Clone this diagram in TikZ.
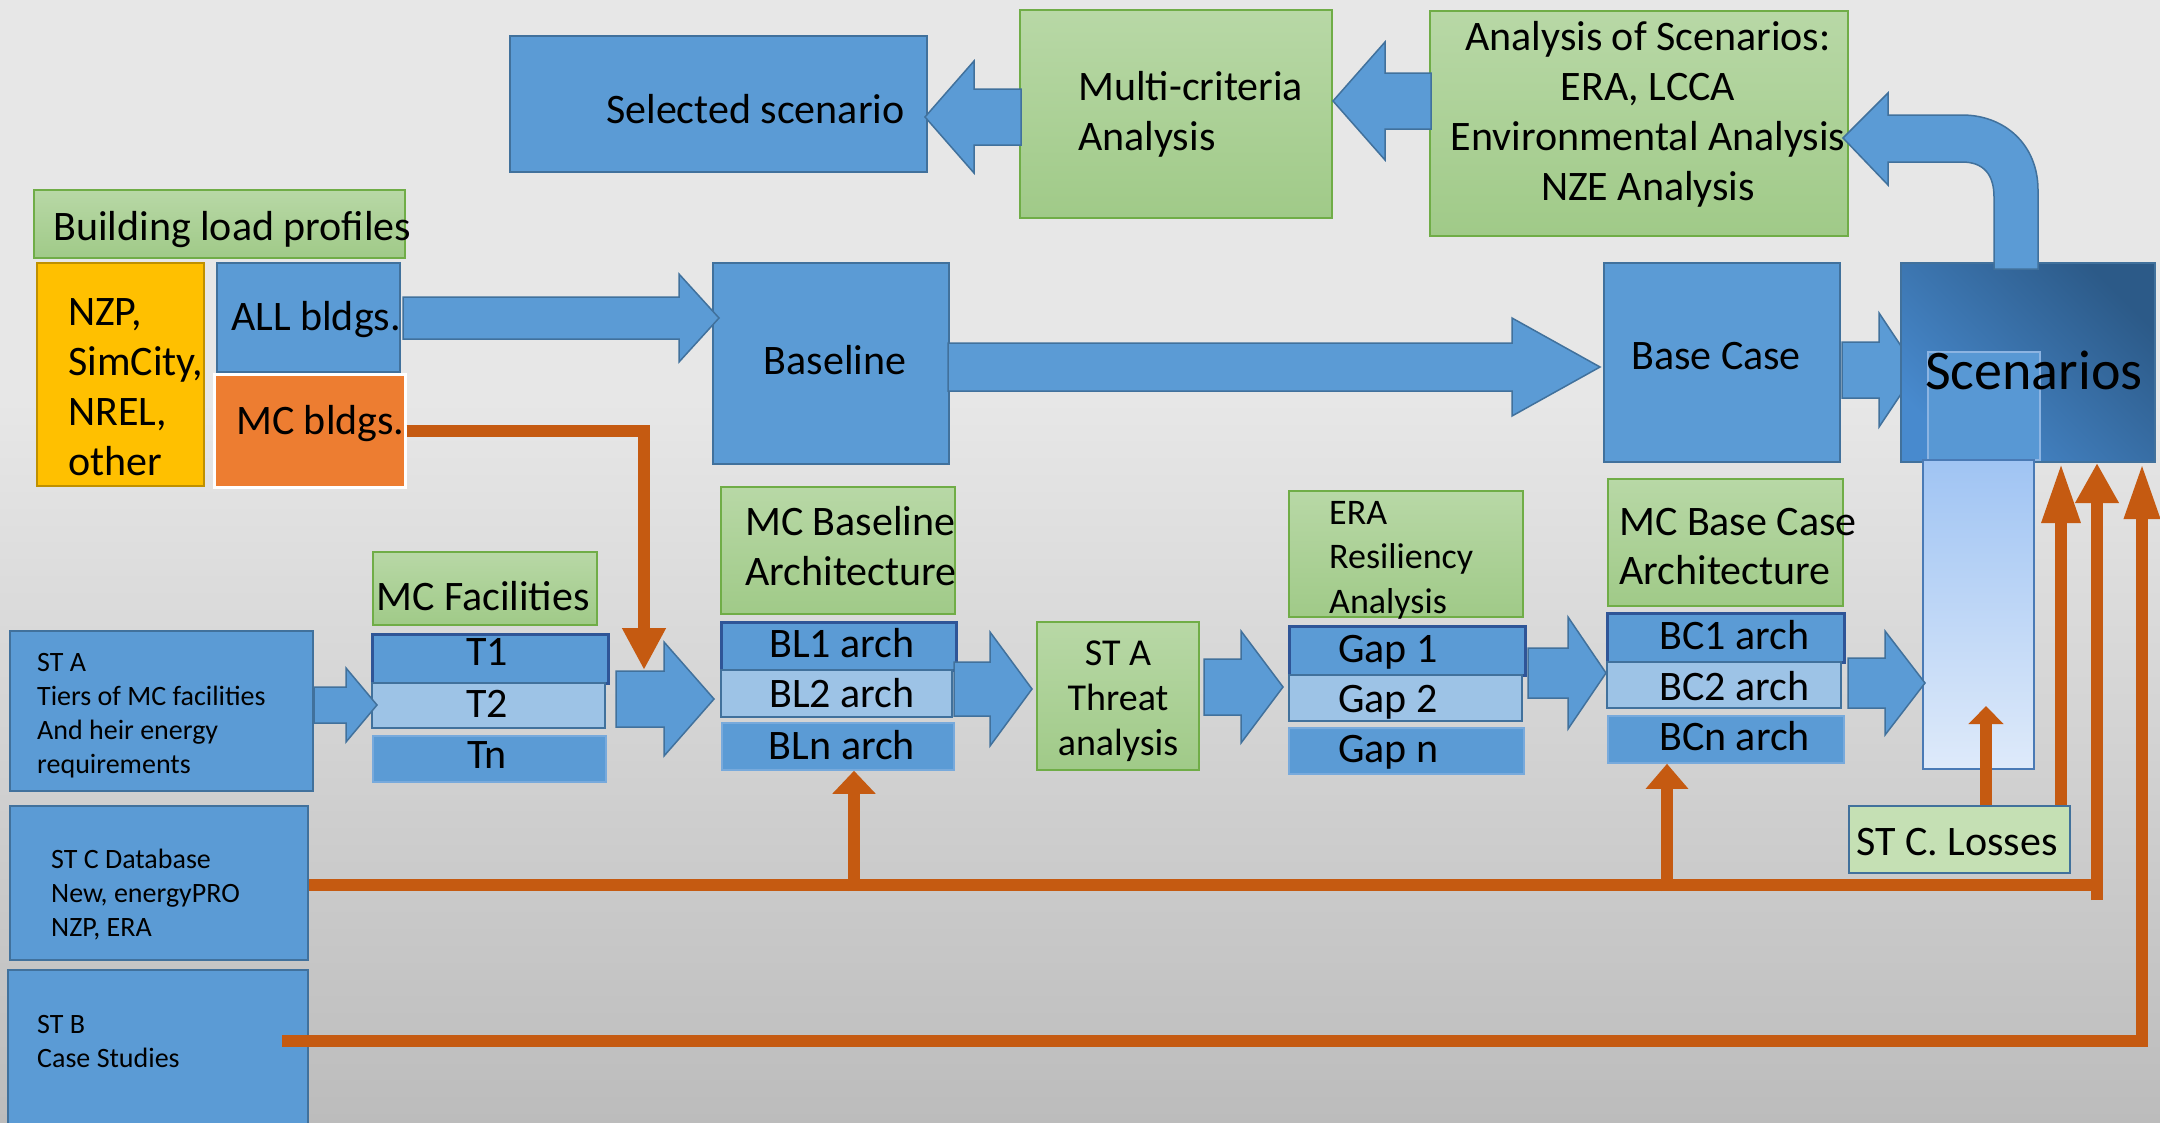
\documentclass[tikz,border=0pt]{standalone}
\usepackage{fontspec}
\setmainfont{Carlito}
\usetikzlibrary{arrows.meta,fit}
\definecolor{bgtop}{RGB}{231,231,231}
\definecolor{bgbot}{RGB}{188,188,188}
\definecolor{bfill}{RGB}{91,155,213}
\definecolor{bdraw}{RGB}{65,113,156}
\definecolor{bdark}{RGB}{47,85,151}
\definecolor{blight}{RGB}{157,195,230}
\definecolor{bthin}{RGB}{120,170,220}
\definecolor{gtop}{RGB}{184,216,166}
\definecolor{gbot}{RGB}{160,202,136}
\definecolor{gdraw}{RGB}{112,173,71}
\definecolor{orl}{RGB}{197,90,17}
\definecolor{orbox}{RGB}{237,125,49}
\definecolor{yel}{RGB}{255,192,0}
\definecolor{yeldraw}{RGB}{191,144,0}
\definecolor{losses}{RGB}{197,224,180}
\definecolor{scA}{RGB}{72,138,206}
\definecolor{scB}{RGB}{44,90,136}
\definecolor{scin}{RGB}{88,152,212}
\definecolor{scinb}{RGB}{140,180,226}
\definecolor{tallA}{RGB}{160,196,243}
\definecolor{tallB}{RGB}{222,234,250}
\definecolor{talld}{RGB}{74,122,181}
\newcommand\blockarr[6]{%
  \draw[barrow] (#1,#4-#5) -- (#2,#4-#5) -- (#2,#4-#6) -- (#3,#4) -- (#2,#4+#6) -- (#2,#4+#5) -- (#1,#4+#5) -- cycle;}
\begin{document}
\begin{tikzpicture}[x=1pt,y=-1pt,
  bbox/.style={fill=bfill, draw=bdraw, line width=2pt, inner sep=0pt},
  gbox/.style={top color=gtop, bottom color=gbot, draw=gdraw, line width=2pt, inner sep=0pt},
  rowa/.style={fill=bfill, draw=bdark, line width=3pt, inner sep=0pt},
  rowb/.style={fill=blight, draw=bdraw, line width=2.5pt, inner sep=0pt},
  rowc/.style={fill=bfill, draw=bthin, line width=1.5pt, inner sep=0pt},
  barrow/.style={fill=bfill, draw=bdraw, line width=1.5pt, line join=miter},
  txt/.style={inner sep=0pt, anchor=base west, yshift=-2pt, font=\fontsize{42}{50}\selectfont},
  stxt/.style={inner sep=0pt, anchor=base west, align=left, font=\fontsize{28}{34}\selectfont},
  oline/.style={draw=orl, line width=12pt, line join=miter}]
\useasboundingbox (0,0) rectangle (2160,1122);
\fill[bgtop] (0,0) rectangle (2160,400);
\shade[top color=bgtop, bottom color=bgbot] (0,399) rectangle (2160,1122);

% top row
\node[bbox, fit={(510,36)(927,172)}] (sel) {};
\node[gbox, fit={(1020,10)(1332,218)}] (multi) {};
\node[gbox, fit={(1430,11)(1848,236)}] (anal) {};
\blockarr{1021}{974}{925}{117}{28}{56}
\blockarr{1431}{1385}{1333}{101}{28}{59}
\node[txt] (sel-t) at (606,121) {Selected scenario};
\node[txt, align=left] (multi-t) at (1078,148) {Multi-criteria\\Analysis};
\node[txt, align=center, anchor=base] (anal-t) at (1648,198) {Analysis of Scenarios:\\ERA, LCCA\\Environmental Analysis\\NZE Analysis};

% load profiles
\node[gbox, fit={(34,190)(405,258)}] (blp) {};
\node[fill=yel, draw=yeldraw, line width=2.5pt, inner sep=0pt, fit={(37,263)(204,486)}] (src) {};
\node[bbox, fit={(217,263)(400,372)}] (allb) {};
\node[fill=orbox, draw=white, line width=3pt, inner sep=0pt, fit={(214,374)(405,487)}] (mcb) {};
\node[txt] (blp-t) at (53,238) {Building load profiles};
\node[txt, align=left] (src-t) at (68,473) {NZP,\\SimCity,\\NREL,\\other};
\node[txt] (allb-t) at (231,328) {ALL bldgs.};
\node[txt] (mcb-t) at (236,432) {MC bldgs.};

% main row
\node[bbox, fit={(713,263)(949,464)}] (base) {};
\node[bbox, fit={(1604,263)(1840,462)}] (bcase) {};
\blockarr{403}{679}{719}{318}{21}{44}
\blockarr{948}{1512}{1600}{367}{24}{49}
\blockarr{1842}{1879}{1917}{370}{28}{57}
\node[txt, anchor=base] (base-t) at (835,372) {Baseline};
\node[txt, anchor=base] (bcase-t) at (1716,367) {Base Case};

% scenarios
\node[shade, left color=scA, right color=scB, shading angle=135, draw=bdraw, line width=2pt, inner sep=0pt, fit={(1901,263)(2155,462)}] (scen) {};
\node[fill=scin, draw=scinb, line width=1.5pt, inner sep=0pt, fit={(1928,352)(2040,460)}] (scin) {};
\node[top color=tallA, bottom color=tallB, draw=talld, line width=2.5pt, inner sep=0pt, fit={(1923,460)(2034,769)}] (tall) {};
\node[txt, font=\fontsize{56}{60}\selectfont] (scen-t) at (1925,387) {Scenarios};
\draw[barrow] (1994,269) -- (1994,197) .. controls (1994,175) and (1984,162) .. (1962,162)
  -- (1888,162) -- (1888,185) -- (1843,138) -- (1888,93) -- (1888,115) -- (1962,115)
  .. controls (2005,115) and (2038,145) .. (2038,190) -- (2038,269) -- cycle;

% lower left
\node[gbox, fit={(373,552)(597,625)}] (mcf) {};
\node[rowa, fit={(372,634)(608,683)}] (t1) {};
\node[rowb, fit={(372,683)(605,728)}] (t2) {};
\node[rowc, fit={(373,736)(606,782)}] (tn) {};
\node[txt, anchor=base] (mcf-t) at (483,608) {MC Facilities};
\node[txt, anchor=base] (t1-t) at (487,663) {T1};
\node[txt, anchor=base] (t2-t) at (487,715) {T2};
\node[txt, anchor=base] (tn-t) at (487,766) {Tn};
\node[bbox, fit={(10,631)(313,791)}] (sta) {};
\node[bbox, fit={(10,806)(308,960)}] (stc) {};
\node[bbox, fit={(8,970)(308,1140)}] (stb) {};
\node[stxt] (sta-t) at (37,773) {ST A\\Tiers of MC facilities\\And heir energy\\requirements};
\node[stxt] (stc-t) at (51,936) {ST C Database\\New, energyPRO\\NZP, ERA};
\node[stxt] (stb-t) at (37,1067) {ST B\\Case Studies};
\blockarr{314}{346}{377}{705}{18}{37}
\blockarr{616}{664}{714}{699}{28}{57}

% baseline architecture
\node[gbox, fit={(721,487)(955,614)}] (mcba) {};
\node[rowa, fit={(721,622)(956,670)}] (bl1) {};
\node[rowb, fit={(721,670)(952,717)}] (bl2) {};
\node[rowc, fit={(722,723)(954,770)}] (bln) {};
\node[txt, align=left] (mcba-t) at (745,583) {MC Baseline\\Architecture};
\node[txt, anchor=base] (bl1-t) at (842,655) {BL1 arch};
\node[txt, anchor=base] (bl2-t) at (842,705) {BL2 arch};
\node[txt, anchor=base] (bln-t) at (842,757) {BLn arch};
\blockarr{954}{990}{1032}{689}{27}{57}

% threat
\node[gbox, fit={(1037,622)(1199,770)}] (thr) {};
\node[txt, anchor=base, align=center, font=\fontsize{38}{45}\selectfont] (thr-t) at (1118,753) {ST A\\Threat\\analysis};
\blockarr{1204}{1241}{1283}{687}{28}{56}

% ERA
\node[gbox, fit={(1289,491)(1523,617)}] (era) {};
\node[rowa, fit={(1289,626)(1525,675)}] (g1) {};
\node[rowb, fit={(1289,675)(1522,721)}] (g2) {};
\node[rowc, fit={(1289,728)(1524,774)}] (gn) {};
\node[txt, align=left, font=\fontsize{36}{44.5}\selectfont] (era-t) at (1329,611) {ERA\\Resiliency\\Analysis};
\node[txt] (g1-t) at (1338,660) {Gap 1};
\node[txt] (g2-t) at (1338,710) {Gap 2};
\node[txt] (gn-t) at (1338,760) {Gap n};
\blockarr{1528}{1568}{1606}{673}{25}{56}

% base case architecture
\node[gbox, fit={(1608,479)(1843,606)}] (mcbc) {};
\node[rowa, fit={(1607,613)(1844,662)}] (bc1) {};
\node[rowb, fit={(1607,662)(1841,708)}] (bc2) {};
\node[rowc, fit={(1608,716)(1844,763)}] (bcn) {};
\node[txt, align=left, font=\fontsize{42}{49}\selectfont] (mcbc-t) at (1619,582) {MC Base Case\\Architecture};
\node[txt] (bc1-t) at (1659,647) {BC1 arch};
\node[txt] (bc2-t) at (1659,698) {BC2 arch};
\node[txt] (bcn-t) at (1659,748) {BCn arch};
\blockarr{1848}{1885}{1925}{683}{25}{52}

% losses
\node[fill=losses, draw=bdraw, line width=2.5pt, inner sep=0pt, fit={(1849,806)(2070,873)}] (loss) {};
\node[txt] (loss-t) at (1856,853) {ST C. Losses};

% orange connectors
\coordinate (mcin) at (644,670);
\draw[oline, -{Triangle[length=42pt,width=41pt]}] (mcb.east) -| (mcin);
\draw[oline] (stc.east |- 0,885) -- (2103,885);
\draw[oline, -{Triangle[length=23pt,width=42pt]}] (854,891) -- (854,0 |- bln.south);
\draw[oline, -{Triangle[length=25pt,width=41pt]}] (1667,891) -- (1667,0 |- bcn.south);
\draw[oline, -{Triangle[length=40pt,width=41pt]}] (2097,900) -- (2097,0 |- scen.south);
\draw[oline, -{Triangle[length=56pt,width=33pt]}] (282,1041) -| (2142,0 |- scen.south);
\draw[oline, -{Triangle[length=60pt,width=36pt]}] (2061,0 |- loss.north) -- (2061,0 |- scen.south);
\draw[oline, -{Triangle[length=18pt,width=34pt]}] (1986,0 |- loss.north) -- (1986,706);
\end{tikzpicture}
\end{document}
